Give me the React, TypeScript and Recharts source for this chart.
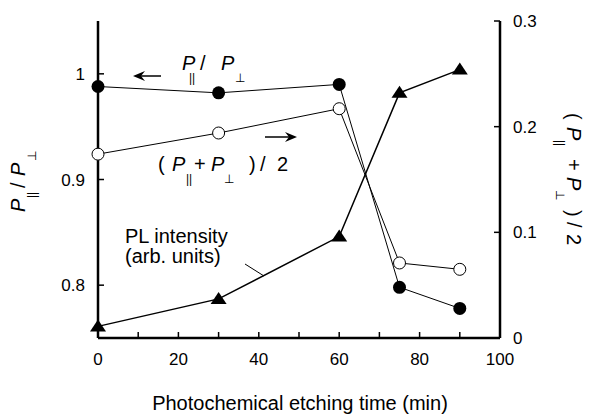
import React from 'react';
import { ComposedChart, Line, XAxis, YAxis } from 'recharts';

// etching time (min)
const times = [0, 30, 60, 75, 90];
// P|| / P_perp  (left axis)
const ratio = [0.988, 0.982, 0.99, 0.798, 0.778];
// (P|| + P_perp) / 2  (right axis)
const average = [0.174, 0.194, 0.217, 0.071, 0.065];
// PL intensity, arb. units (right axis)
const plIntensity = [0.011, 0.037, 0.096, 0.232, 0.254];

const xTicks = [0, 10, 20, 30, 40, 50, 60, 70, 80, 90, 100];
const xLabelTicks = [0, 20, 40, 60, 80, 100];
const leftTicks = [0.8, 0.9, 1];
const rightTicks = [0, 0.1, 0.2, 0.3];

const data = times.map((t, i) => ({
    time: t,
    ratio: ratio[i],
    average: average[i],
    pl: plIntensity[i],
}));

const FONT = '"Liberation Sans", Arial, sans-serif';

const BottomTick = ({ x, y, payload }: any) => (
    <g>
        <line x1={x} x2={x} y1={y} y2={y - 6} stroke="#000" strokeWidth={1.5} />
        {xLabelTicks.includes(payload.value) && (
            <text x={x} y={y + 27} textAnchor="middle" fontSize={17} fontFamily={FONT} fill="#000">
                {payload.value}
            </text>
        )}
    </g>
);

const TopTick = ({ x, y }: any) => (
    <line x1={x} x2={x} y1={y} y2={y + 6} stroke="#000" strokeWidth={1.5} />
);

const LeftTick = ({ x, y, payload }: any) => (
    <g>
        <line x1={x} x2={x + 6} y1={y} y2={y} stroke="#000" strokeWidth={1.5} />
        <text x={x - 13} y={y + 6} textAnchor="end" fontSize={17} fontFamily={FONT} fill="#000">
            {String(payload.value)}
        </text>
    </g>
);

const RightTick = ({ x, y, payload }: any) => (
    <g>
        <line x1={x} x2={x - 6} y1={y} y2={y} stroke="#000" strokeWidth={1.5} />
        <text x={x + 13} y={y + 6} textAnchor="start" fontSize={17} fontFamily={FONT} fill="#000">
            {String(payload.value)}
        </text>
    </g>
);

const FilledDot = ({ cx, cy }: any) => <circle cx={cx} cy={cy} r={6.5} fill="#000" />;
const OpenDot = ({ cx, cy }: any) => <circle cx={cx} cy={cy} r={6} fill="#fff" stroke="#000" strokeWidth={1} />;
const TriangleDot = ({ cx, cy }: any) => (
    <polygon points={`${cx},${cy - 7} ${cx + 8},${cy + 5} ${cx - 8},${cy + 5}`} fill="#000" />
);

// annotation overlay (text, arrows, leader line)
const Annotations = () => (
    <svg
        width={589}
        height={416}
        style={{ position: 'absolute', left: 0, top: 0, pointerEvents: 'none' }}
        fontFamily={FONT}
        fill="#000"
    >
        {/* P|| / P_perp label + left arrow */}
        <text fontSize={20}>
            <tspan x={182} y={70} fontStyle="italic">P</tspan>
            <tspan x={189} y={82} fontSize={12}>||</tspan>
            <tspan x={200} y={70}>/</tspan>
            <tspan x={221} y={70} fontStyle="italic">P</tspan>
            <tspan x={235} y={82} fontSize={12}>⊥</tspan>
        </text>
        <line x1={161} y1={76} x2={138} y2={76} stroke="#000" strokeWidth={1.5} />
        <polygon points="133,76 145,71 141,76 145,81" fill="#000" />

        {/* (P|| + P_perp) / 2 label + right arrow */}
        <text fontSize={20}>
            <tspan x={158} y={171}>(</tspan>
            <tspan x={172} y={171} fontStyle="italic">P</tspan>
            <tspan x={186} y={183} fontSize={12}>||</tspan>
            <tspan x={194} y={171}>+</tspan>
            <tspan x={211} y={171} fontStyle="italic">P</tspan>
            <tspan x={224} y={183} fontSize={12}>⊥</tspan>
            <tspan x={249} y={171}>)</tspan>
            <tspan x={260} y={171}>/</tspan>
            <tspan x={277} y={171}>2</tspan>
        </text>
        <line x1={265} y1={137} x2={292} y2={137} stroke="#000" strokeWidth={1.5} />
        <polygon points="297,137 285,132 289,137 285,142" fill="#000" />

        {/* PL intensity label + leader */}
        <text fontSize={20}>
            <tspan x={125} y={243}>PL intensity</tspan>
            <tspan x={125} y={263}>(arb. units)</tspan>
        </text>
        <line x1={245} y1={264} x2={264} y2={276} stroke="#000" strokeWidth={1} />

        {/* left axis title */}
        <g transform="translate(25,180) rotate(-90)">
            <text fontSize={20}>
                <tspan x={-32} y={0} fontStyle="italic">P</tspan>
                <tspan x={-18} y={11} fontSize={12}>||</tspan>
                <tspan x={-8} y={0}>/</tspan>
                <tspan x={4} y={0} fontStyle="italic">P</tspan>
                <tspan x={19} y={11} fontSize={12}>⊥</tspan>
            </text>
        </g>

        {/* right axis title */}
        <g transform="translate(567,176) rotate(90)">
            <text fontSize={20}>
                <tspan x={-63} y={0}>(</tspan>
                <tspan x={-49} y={0} fontStyle="italic">P</tspan>
                <tspan x={-36} y={11} fontSize={12}>||</tspan>
                <tspan x={-17} y={0}>+</tspan>
                <tspan x={1} y={0} fontStyle="italic">P</tspan>
                <tspan x={14} y={11} fontSize={12}>⊥</tspan>
                <tspan x={34} y={0}>)</tspan>
                <tspan x={46} y={0}>/</tspan>
                <tspan x={58} y={0}>2</tspan>
            </text>
        </g>

        {/* x axis title */}
        <text x={300} y={410} fontSize={20} textAnchor="middle">
            Photochemical etching time (min)
        </text>
    </svg>
);

export default function App() {
    return (
        <div style={{ position: 'absolute', left: 0, top: 0, width: 589, height: 416, background: '#fff' }}>
            <ComposedChart width={589} height={416} data={data} margin={{ top: 21, right: 0, bottom: 0, left: 0 }}>
                <XAxis
                    xAxisId="bottom"
                    dataKey="time"
                    type="number"
                    domain={[0, 100]}
                    ticks={xTicks}
                    interval={0}
                    height={78}
                    tickSize={0}
                    tickMargin={0}
                    tickLine={false}
                    axisLine={{ stroke: '#000', strokeWidth: 2.5 }}
                    tick={<BottomTick />}
                />
                <XAxis
                    xAxisId="top"
                    orientation="top"
                    dataKey="time"
                    type="number"
                    domain={[0, 100]}
                    ticks={xTicks}
                    interval={0}
                    height={0}
                    tickSize={0}
                    tickMargin={0}
                    tickLine={false}
                    axisLine={{ stroke: '#000', strokeWidth: 2.5 }}
                    tick={<TopTick />}
                />
                <YAxis
                    yAxisId="left"
                    orientation="left"
                    type="number"
                    domain={[0.75, 1.05]}
                    ticks={leftTicks}
                    interval={0}
                    width={98}
                    tickSize={0}
                    tickMargin={0}
                    tickLine={false}
                    allowDataOverflow
                    axisLine={{ stroke: '#000', strokeWidth: 2.5 }}
                    tick={<LeftTick />}
                />
                <YAxis
                    yAxisId="right"
                    orientation="right"
                    type="number"
                    domain={[0, 0.3]}
                    ticks={rightTicks}
                    interval={0}
                    width={89}
                    tickSize={0}
                    tickMargin={0}
                    tickLine={false}
                    allowDataOverflow
                    axisLine={{ stroke: '#000', strokeWidth: 2.5 }}
                    tick={<RightTick />}
                />
                <Line
                    xAxisId="bottom"
                    yAxisId="right"
                    dataKey="pl"
                    type="linear"
                    stroke="#000"
                    strokeWidth={1.5}
                    dot={<TriangleDot />}
                    activeDot={false}
                    isAnimationActive={false}
                />
                <Line
                    xAxisId="bottom"
                    yAxisId="left"
                    dataKey="ratio"
                    type="linear"
                    stroke="#000"
                    strokeWidth={1}
                    dot={<FilledDot />}
                    activeDot={false}
                    isAnimationActive={false}
                />
                <Line
                    xAxisId="bottom"
                    yAxisId="right"
                    dataKey="average"
                    type="linear"
                    stroke="#000"
                    strokeWidth={1}
                    dot={<OpenDot />}
                    activeDot={false}
                    isAnimationActive={false}
                />
            </ComposedChart>
            <Annotations />
        </div>
    );
}
